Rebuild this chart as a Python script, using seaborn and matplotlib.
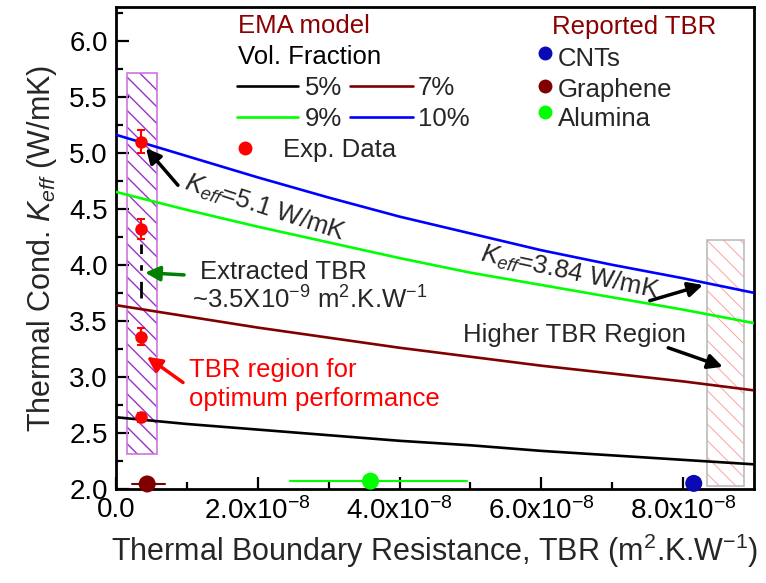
import numpy as np
import pandas as pd
import matplotlib
matplotlib.use("Agg")
import matplotlib.pyplot as plt
from matplotlib.patches import Rectangle
from matplotlib.lines import Line2D
from matplotlib.ticker import MultipleLocator, FixedLocator, FixedFormatter
import seaborn as sns

# ---- EMA model curves: K_eff (W/mK) vs TBR (x1e-8 m^2.K/W) ----
tbr_grid = [0, 1, 2, 3, 4, 5, 6, 7, 8, 9]
k_5pct = [2.64, 2.58, 2.53, 2.48, 2.43, 2.39, 2.34, 2.30, 2.26, 2.22]
k_7pct = [3.64, 3.54, 3.44, 3.35, 3.26, 3.18, 3.10, 3.03, 2.96, 2.88]
k_9pct = [4.65, 4.49, 4.34, 4.20, 4.06, 3.93, 3.82, 3.71, 3.60, 3.48]
k_10pct = [5.16, 4.97, 4.78, 4.60, 4.43, 4.28, 4.13, 4.00, 3.88, 3.75]
series_names = ["5%", "7%", "9%", "10%"]
series_colors = ["#000000", "#800000", "#00FF00", "#0000FF"]

# ---- experimental data ----
exp_tbr = [0.35, 0.35, 0.35, 0.35]
exp_k = [5.10, 4.32, 3.36, 2.64]
exp_err = [0.10, 0.086, 0.075, 0.04]

# ---- reported TBR values (x1e-8) ----
rep_names = ["CNTs", "Graphene", "Alumina"]
rep_tbr = [8.15, 0.44, 3.59]
rep_k = [2.05, 2.045, 2.07]
rep_lo = [8.15, 0.22, 2.45]
rep_hi = [8.15, 0.69, 4.95]
rep_colors = ["#0A0AB4", "#800000", "#00FF00"]

# ---- shaded TBR regions (x1e-8, W/mK) ----
opt_region = [0.15, 0.585, 2.31, 5.71]
high_region = [8.33, 8.86, 2.03, 4.22]
extracted_tbr = 0.35
extracted_span = [3.70, 4.19]

sns.set_theme(style="ticks")
plt.rcParams["font.family"] = ["Liberation Sans", "DejaVu Sans"]
plt.rcParams["mathtext.fontset"] = "custom"
plt.rcParams["mathtext.rm"] = "Liberation Sans"
plt.rcParams["mathtext.it"] = "Liberation Sans:italic"
plt.rcParams["mathtext.bf"] = "Liberation Sans:bold"
plt.rcParams["hatch.linewidth"] = 1.0

fig = plt.figure(figsize=(7.66, 5.83), dpi=100)
ax = fig.add_axes([116 / 766, 94 / 583, 638 / 766, 482 / 583])

curves = pd.DataFrame({
    "tbr": np.tile(np.array(tbr_grid, dtype=float) * 1e-8, 4),
    "k": np.concatenate([k_5pct, k_7pct, k_9pct, k_10pct]),
    "vf": np.repeat(series_names, len(tbr_grid)),
})
sns.lineplot(data=curves, x="tbr", y="k", hue="vf", hue_order=series_names,
             palette=series_colors, linewidth=1.9, legend=False, ax=ax, zorder=3)

# hatched regions
for reg, hcol, ecol, hlw in [(opt_region, "#9933CC", "#CC77DD", 1.0),
                             (high_region, "#FFA0A0", "#BBBBBB", 0.7)]:
    x0, x1, y0, y1 = reg
    plt.rcParams["hatch.linewidth"] = hlw
    ax.add_patch(Rectangle((x0 * 1e-8, y0), (x1 - x0) * 1e-8, y1 - y0,
                           facecolor="none", edgecolor=hcol, linewidth=0,
                           hatch="\\\\", zorder=1))
    ax.add_patch(Rectangle((x0 * 1e-8, y0), (x1 - x0) * 1e-8, y1 - y0,
                           facecolor="none", edgecolor=ecol, linewidth=1.2,
                           zorder=1.5))

# extracted TBR marker line
ax.plot([extracted_tbr * 1e-8] * 2, extracted_span, color="black",
        linestyle=(0, (6, 4, 2, 4)), linewidth=2.0, zorder=2)

# experimental points
ax.errorbar(np.array(exp_tbr) * 1e-8, exp_k, yerr=exp_err, fmt="o",
            color="#FF0000", markersize=8, elinewidth=1.5, capsize=3,
            capthick=1.5, zorder=5)

# reported TBR points
for t, k, lo, hi, c in zip(rep_tbr, rep_k, rep_lo, rep_hi, rep_colors):
    if hi > lo:
        ax.plot([lo * 1e-8, hi * 1e-8], [k, k], color=c, linewidth=1.5,
                zorder=4, clip_on=False)
ax.scatter(np.array(rep_tbr) * 1e-8, rep_k, s=150, c=rep_colors,
           edgecolors="none", zorder=6, clip_on=False)

# axes
ax.set_xlim(0, 9e-8)
ax.set_ylim(2.0, 6.3)
ax.yaxis.set_major_locator(MultipleLocator(0.5))
ax.yaxis.set_minor_locator(MultipleLocator(0.25))
ax.yaxis.set_major_formatter(matplotlib.ticker.FormatStrFormatter("%.1f"))
xticks = [0, 2e-8, 4e-8, 6e-8, 8e-8]
xlabels = ["0.0", "2.0x10$^{-8}$", "4.0x10$^{-8}$", "6.0x10$^{-8}$",
           "8.0x10$^{-8}$"]
ax.xaxis.set_major_locator(FixedLocator(xticks))
ax.xaxis.set_major_formatter(FixedFormatter(xlabels))
ax.xaxis.set_minor_locator(FixedLocator([1e-8, 3e-8, 5e-8, 7e-8]))
ax.tick_params(which="both", direction="in", top=False, right=False,
               width=1.6, labelsize=20, colors="black")
ax.tick_params(which="major", length=9, pad=6)
ax.tick_params(which="minor", length=5)
for sp in ax.spines.values():
    sp.set_linewidth(2.0)
    sp.set_color("black")
ax.set_xlabel("Thermal Boundary Resistance, TBR (m$^{2}$.K.W$^{-1}$)",
              fontsize=22, labelpad=5)
ax.set_ylabel("Thermal Cond. $K_{eff}$ (W/mK)", fontsize=22, labelpad=7)

# key: EMA model
T = ax.transAxes
fs = 18.5
ax.text(0.191, 0.946, "EMA model", color="#8B0000", fontsize=fs,
        transform=T, va="baseline")
ax.text(0.191, 0.882, "Vol. Fraction", color="black", fontsize=fs,
        transform=T, va="baseline")
key_rows = [(0.836, 0.817), (0.772, 0.753)]
key_pos = [(0.190, 0.285, 0.296), (0.367, 0.465, 0.473)]
order = [[0, 1], [2, 3]]
for (ly, ty), idx in zip(key_rows, order):
    for (xa, xb, xt), i in zip(key_pos, idx):
        ax.add_line(Line2D([xa, xb], [ly, ly], color=series_colors[i],
                           linewidth=1.9, transform=T))
        ax.text(xt, ty, series_names[i], fontsize=fs, transform=T,
                va="baseline")
ax.plot([0.202], [0.7075], "o", color="#FF0000", markersize=9, transform=T)
ax.text(0.262, 0.689, "Exp. Data", fontsize=fs, transform=T, va="baseline")

# key: reported TBR
ax.text(0.683, 0.944, "Reported TBR", color="#8B0000", fontsize=fs,
        transform=T, va="baseline")
for name, c, dy, ty in zip(rep_names, rep_colors, [0.905, 0.836, 0.782],
                           [0.878, 0.813, 0.753]):
    ax.plot([0.673], [dy], "o", color=c, markersize=9, transform=T)
    ax.text(0.693, ty, name, fontsize=fs, transform=T, va="baseline")

# annotations
arrow_k = dict(arrowstyle="-|>", color="black", lw=2.5, mutation_scale=22,
               shrinkA=0, shrinkB=0)
ax.text(2.10e-8, 4.51, "$K_{eff}$=5.1 W/mK", fontsize=fs, rotation=-18,
        ha="center", va="center", rotation_mode="anchor")
ax.annotate("", xy=(0.423e-8, 5.04), xytext=(0.874e-8, 4.71),
            arrowprops=arrow_k)
ax.text(6.40e-8, 3.93, "$K_{eff}$=3.84 W/mK", fontsize=fs, rotation=-12,
        ha="center", va="center", rotation_mode="anchor")
ax.annotate("", xy=(8.28e-8, 3.82), xytext=(7.53e-8, 3.68),
            arrowprops=arrow_k)
ax.text(1.185e-8, 3.87, "Extracted TBR", fontsize=fs, va="baseline")
ax.text(1.07e-8, 3.61, "~3.5X10$^{-9}$ m$^{2}$.K.W$^{-1}$", fontsize=fs,
        va="baseline")
ax.annotate("", xy=(0.41e-8, 3.93), xytext=(0.96e-8, 3.91),
            arrowprops=dict(arrow_k, color="#008000"))
ax.text(1.03e-8, 3.00, "TBR region for", fontsize=fs, color="#FF0000",
        va="baseline")
ax.text(1.03e-8, 2.74, "optimum performance", fontsize=fs, color="#FF0000",
        va="baseline")
ax.annotate("", xy=(0.437e-8, 3.18), xytext=(0.945e-8, 2.95),
            arrowprops=dict(arrow_k, color="#FF0000"))
ax.text(4.89e-8, 3.31, "Higher TBR Region", fontsize=fs, va="baseline")
ax.annotate("", xy=(8.56e-8, 3.09), xytext=(7.79e-8, 3.26),
            arrowprops=arrow_k)

fig.savefig("out.png", dpi=100, facecolor="white")
